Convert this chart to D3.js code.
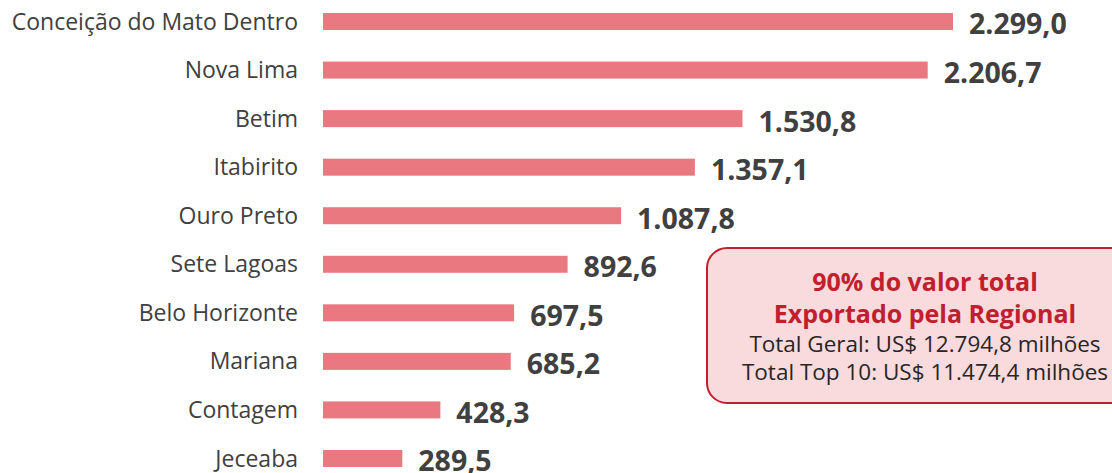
<!DOCTYPE html>
<html>
<head>
<meta charset="utf-8">
<script src="https://cdn.jsdelivr.net/npm/d3@7"></script>
<style>
body { margin: 0; background: #fff; }
svg text { font-family: "Open Sans", "Noto Sans", sans-serif; }
</style>
</head>
<body>
<script>
// top 10 municipios - exportacoes (US$ milhoes)
var cidades = ["Conceição do Mato Dentro", "Nova Lima", "Betim", "Itabirito", "Ouro Preto",
               "Sete Lagoas", "Belo Horizonte", "Mariana", "Contagem", "Jeceaba"];
var valores = [2299.0, 2206.7, 1530.8, 1357.1, 1087.8, 892.6, 697.5, 685.2, 428.3, 289.5];

var boxTitulo = ["90% do valor total", "Exportado pela Regional"];
var boxLinhas = ["Total Geral: US$ 12.794,8 milhões", "Total Top 10: US$ 11.474,4 milhões"];

var width = 1112,
    height = 473;

var svg = d3.select("body").append("svg")
    .attr("width", width)
    .attr("height", height);

var x = d3.scaleLinear()
    .domain([0, 2299])
    .range([323, 953]);

var y = d3.scaleBand()
    .domain(cidades)
    .range([-3, 483])
    .paddingInner(0.65)
    .paddingOuter(0.33);

var fmt = d3.formatLocale({decimal: ",", thousands: ".", grouping: [3], currency: ["", ""]}).format(",.1f");

// bars
svg.selectAll(".bar")
    .data(valores)
    .enter().append("rect")
    .attr("class", "bar")
    .attr("x", x(0))
    .attr("y", function(d, i) { return y(cidades[i]); })
    .attr("width", function(d) { return x(d) - x(0); })
    .attr("height", y.bandwidth())
    .attr("fill", "#e97880");

// category labels
svg.selectAll(".cat")
    .data(cidades)
    .enter().append("text")
    .attr("class", "cat")
    .attr("x", 298)
    .attr("y", function(d) { return y(d) + y.bandwidth() / 2; })
    .attr("dy", "0.35em")
    .attr("text-anchor", "end")
    .attr("font-size", 23)
    .attr("fill", "#404040")
    .text(function(d) { return d; });

// value labels
svg.selectAll(".val")
    .data(valores)
    .enter().append("text")
    .attr("class", "val")
    .attr("x", function(d) { return x(d) + 16; })
    .attr("y", function(d, i) { return y(cidades[i]) + y.bandwidth() / 2 + 3; })
    .attr("dy", "0.35em")
    .attr("font-size", 28.5)
    .attr("font-weight", "bold")
    .attr("fill", "#404040")
    .text(function(d) { return fmt(d); });

// callout box
var box = svg.append("g");
box.append("rect")
    .attr("x", 707)
    .attr("y", 248)
    .attr("width", 430)
    .attr("height", 155)
    .attr("rx", 20)
    .attr("fill", "#f9dadd")
    .attr("stroke", "#c0202e")
    .attr("stroke-width", 2);

box.selectAll(".tit")
    .data(boxTitulo)
    .enter().append("text")
    .attr("x", 925)
    .attr("y", function(d, i) { return 291 + i * 32; })
    .attr("text-anchor", "middle")
    .attr("font-size", 25)
    .attr("font-weight", "bold")
    .attr("fill", "#c0202e")
    .text(function(d) { return d; });

box.selectAll(".lin")
    .data(boxLinhas)
    .enter().append("text")
    .attr("x", 925)
    .attr("y", function(d, i) { return 352 + i * 28; })
    .attr("text-anchor", "middle")
    .attr("font-size", 22.5)
    .attr("fill", "#262626")
    .text(function(d) { return d; });
</script>
</body>
</html>
